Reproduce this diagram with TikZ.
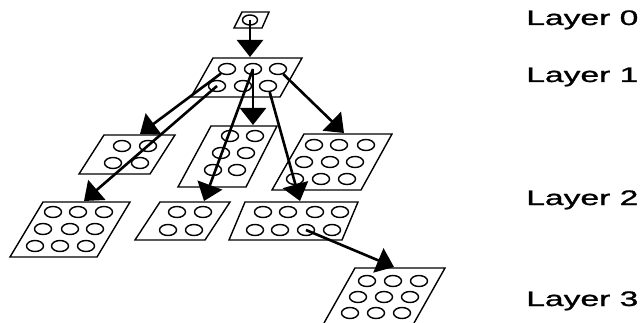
\documentclass[tikz,border=0pt]{standalone}
\usepackage{fontspec}
\setmainfont{Liberation Sans}[FakeBold=1]
\usetikzlibrary{arrows.meta,shapes.geometric}
\begin{document}
\begin{tikzpicture}[x=1pt,y=-1pt,
		kreis/.style={draw,ellipse,line width=1.4pt,minimum width=17pt,minimum height=11pt,inner sep=0pt},
		platte/.style={line width=1.4pt},
		pfeil/.style={-{Triangle[length=17pt,width=26pt]},line width=2.6pt},
		ebene/.style={anchor=base west,xscale=1.6,inner sep=0pt,font=\fontsize{21}{25}\selectfont}]
		\useasboundingbox (0,0) rectangle (644,323);
		% Ebene 0
		\draw[platte] (242,12) -- (269,12) -- (262,28) -- (234,28) -- cycle;
		\node[kreis,minimum width=15pt,minimum height=10pt] (n0) at (250,20) {};
		% Ebene 1
		\draw[platte] (213,58) -- (302,58) -- (280,97) -- (191,97) -- cycle;
		\node[kreis] (n1a) at (227,69) {};
		\node[kreis] (n1b) at (253,69) {};
		\node[kreis] (n1c) at (278,69) {};
		\node[kreis] (n1d) at (217,86) {};
		\node[kreis] (n1e) at (243,86) {};
		\node[kreis] (n1f) at (268,86) {};
		% Ebene 2, oben
		\draw[platte] (104,135) -- (175,135) -- (150,174) -- (79,174) -- cycle;
		\node[kreis] (a1) at (122,146) {};
		\node[kreis] (a2) at (148,146) {};
		\node[kreis] (a3) at (113,163) {};
		\node[kreis] (a4) at (140,163) {};
		\draw[platte] (211,126) -- (277,126) -- (246,187) -- (178,187) -- cycle;
		\node[kreis] (b1) at (230,136) {};
		\node[kreis] (b2) at (255,136) {};
		\node[kreis] (b3) at (221,153) {};
		\node[kreis] (b4) at (246,153) {};
		\node[kreis] (b5) at (213,170) {};
		\node[kreis] (b6) at (237,170) {};
		\draw[platte] (304,134) -- (392,134) -- (361,190) -- (272,190) -- cycle;
		\node[kreis] (c1) at (314,145) {};
		\node[kreis] (c2) at (339,145) {};
		\node[kreis] (c3) at (366,145) {};
		\node[kreis] (c4) at (304,162) {};
		\node[kreis] (c5) at (330,162) {};
		\node[kreis] (c6) at (355,162) {};
		\node[kreis] (c7) at (295,179) {};
		\node[kreis] (c8) at (321,179) {};
		\node[kreis] (c9) at (347,179) {};
		% Ebene 2, unten
		\draw[platte] (43,202) -- (130,202) -- (97,257) -- (10,257) -- cycle;
		\node[kreis] (d1) at (53,212) {};
		\node[kreis] (d2) at (78,212) {};
		\node[kreis] (d3) at (104,212) {};
		\node[kreis] (d4) at (43,229) {};
		\node[kreis] (d5) at (70,229) {};
		\node[kreis] (d6) at (95,229) {};
		\node[kreis] (d7) at (35,246) {};
		\node[kreis] (d8) at (60,246) {};
		\node[kreis] (d9) at (86,246) {};
		\draw[platte] (160,202) -- (230,202) -- (205,240) -- (135,240) -- cycle;
		\node[kreis] (e1) at (177,212) {};
		\node[kreis] (e2) at (203,212) {};
		\node[kreis] (e3) at (168,230) {};
		\node[kreis] (e4) at (194,230) {};
		\draw[platte] (245,202) -- (358,202) -- (342,240) -- (229,240) -- cycle;
		\node[kreis] (f1) at (263,212) {};
		\node[kreis] (f2) at (288,212) {};
		\node[kreis] (f3) at (315,212) {};
		\node[kreis] (f4) at (340,212) {};
		\node[kreis] (f5) at (255,230) {};
		\node[kreis] (f6) at (280,230) {};
		\node[kreis] (f7) at (306,230) {};
		\node[kreis] (f8) at (332,230) {};
		% Ebene 3
		\draw[platte] (324,323) -- (355,268) -- (445,268) -- (414,323);
		\node[kreis] (g1) at (367,281) {};
		\node[kreis] (g2) at (393,281) {};
		\node[kreis] (g3) at (419,281) {};
		\node[kreis] (g4) at (358,297) {};
		\node[kreis] (g5) at (384,297) {};
		\node[kreis] (g6) at (410,297) {};
		\node[kreis] (g7) at (350,313) {};
		\node[kreis] (g8) at (376,313) {};
		\node[kreis] (g9) at (402,313) {};
		% Pfeilspitzen
		\coordinate (z1) at (250,57);
		\coordinate (zA) at (140,134);
		\coordinate (zB) at (253,125);
		\coordinate (zC) at (344,133);
		\coordinate (zD) at (84,201);
		\coordinate (zE) at (204,201);
		\coordinate (zF) at (300,201);
		\coordinate (zG) at (394,267);
		% Pfeile
		\draw[pfeil] (n0.center) -- (z1);
		\draw[pfeil] (n1a) -- (zA);
		\draw[pfeil] (n1d.center) -- (zD);
		\draw[pfeil] (n1b.center) -- (zB);
		\draw[pfeil] (n1b.center) -- (zE);
		\draw[pfeil] (n1f) -- (zF);
		\draw[pfeil] (n1c) -- (zC);
		\draw[pfeil] (f7.center) -- (zG);
		% Beschriftung
		\node[ebene] (l0) at (526,25) {Layer 0};
		\node[ebene] (l1) at (526,82) {Layer 1};
		\node[ebene] (l2) at (526,205) {Layer 2};
		\node[ebene] (l3) at (526,306) {Layer 3};
	\end{tikzpicture}
\end{document}
